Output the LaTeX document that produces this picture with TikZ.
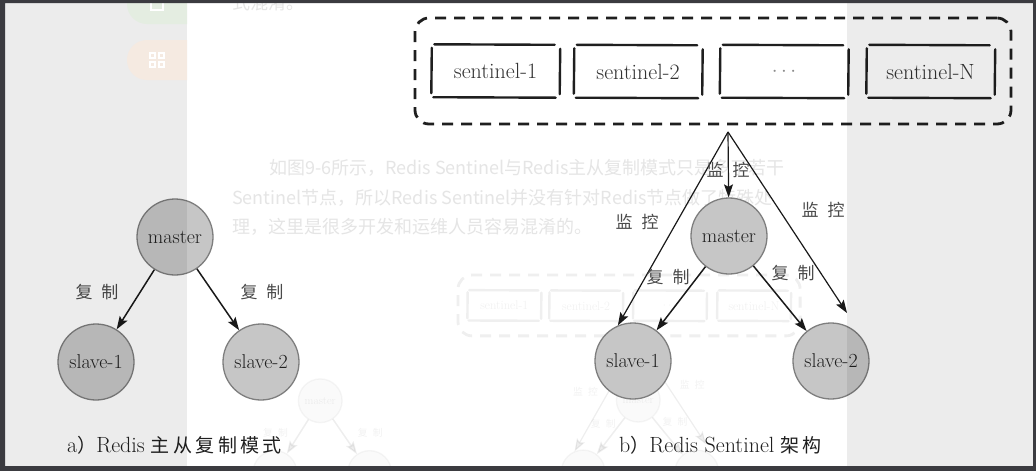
\documentclass[tikz,border=0pt]{standalone}
\usepackage{fontspec}
\newfontfamily\cjk{Noto Sans CJK SC}
\newfontfamily\cjkwide[LetterSpace=18]{Noto Sans CJK SC}
\usetikzlibrary{arrows.meta}
\definecolor{framecol}{HTML}{3B3B40}
\definecolor{nodefill}{HTML}{C6C6C6}
\definecolor{nodeedge}{HTML}{7E7E7E}
\definecolor{labelcol}{HTML}{4A4A4A}
\definecolor{btngreen}{HTML}{E4EDE1}
\definecolor{btnorange}{HTML}{F5EAE1}
\tikzset{
  redisnode/.style={circle, draw=nodeedge, line width=1.3pt, fill=nodefill,
    minimum size=76pt, inner sep=0pt, font=\fontsize{20}{24}\selectfont, text=black!88},
  sentbox/.style={draw=none, minimum width=128pt, minimum height=52pt, inner sep=0pt,
    font=\fontsize{22}{24}\selectfont, text=black!80},
  sketchline/.style={draw=black!88, line width=2.4pt, line cap=round},
  groupbox/.style={draw=black!88, line width=2.8pt, dash pattern=on 11pt off 8pt,
    rounded corners=14pt, minimum width=596pt, minimum height=106pt, inner sep=0pt},
  flow/.style={-{Stealth[length=13pt,width=9pt,inset=2.5pt]}, line width=1.5pt, draw=black!90},
  watch/.style={-{Stealth[length=13pt,width=9pt,inset=2.5pt]}, line width=1.2pt, draw=black!90},
  cjklabel/.style={font=\cjk\fontsize{17}{20}\selectfont, text=labelcol, inner sep=0pt},
  captext/.style={font=\fontsize{22}{26}\selectfont, text=black!88, inner sep=0pt},
  para/.style={font=\cjk\fontsize{18}{20}\selectfont, text=black!10, inner sep=0pt},
}
\newcommand\sketchrect[1]{%
  \draw[sketchline] ([xshift=3pt,yshift=0.5pt]#1.north west) -- ([xshift=-5pt]#1.north east);
  \draw[sketchline] ([xshift=2pt]#1.south west) -- ([xshift=-4pt,yshift=-0.5pt]#1.south east);
  \draw[sketchline] ([xshift=0.5pt,yshift=-3pt]#1.north west) -- ([yshift=4pt]#1.south west);
  \draw[sketchline] ([xshift=0.5pt,yshift=-4pt]#1.north east) -- ([yshift=3pt]#1.south east);
}
\newcommand\redisfigure{%
  % a) master-slave replication
  \node[redisnode] (lm) at (175,237) {master};
  \node[redisnode] (ls1) at (96,362) {slave-1};
  \node[redisnode] (ls2) at (261,362) {slave-2};
  \draw[flow] (lm) -- (ls1);
  \draw[flow] (lm) -- (ls2);
  \node[cjklabel] (la1) at (97,292) {复\hspace{9pt}制};
  \node[cjklabel] (la2) at (262,292) {复\hspace{9pt}制};
  \node[captext, anchor=base west] (capa) at (67,452)
    {a{\cjk\fontsize{19}{22}\selectfont ）}Redis\hspace{6pt}{\cjkwide\fontsize{19}{22}\selectfont 主从复制模式}};
  % b) Redis Sentinel
  \node[sentbox] (s1) at (495.5,71) {sentinel-1};
  \node[sentbox] (s2) at (638,71.5) {sentinel-2};
  \node[sentbox] (s3) at (784,71.5) {\textcolor{black!45}{$\cdots$}};
  \node[sentbox] (sN) at (930.5,71.5) {sentinel-N};
  \sketchrect{s1}\sketchrect{s2}\sketchrect{s3}\sketchrect{sN}
  \node[groupbox] (grp) at (713,71) {};
  \node[redisnode] (rm) at (729,236) {master};
  \node[redisnode] (rs1) at (633,361) {slave-1};
  \node[redisnode] (rs2) at (831,361) {slave-2};
  \coordinate (apex) at (728,132);
  \coordinate (aim) at (847,313);
  \draw[watch] (apex) -- (rm);
  \draw[watch] (apex) -- (rs1.113);
  \draw[watch] (apex) -- (aim);
  \draw[flow] (rm) -- (rs1);
  \draw[flow] (rm) -- (rs2);
  \node[cjklabel] (w1) at (728,170) {监\hspace{9pt}控};
  \node[cjklabel] (w2) at (637,222) {监\hspace{9pt}控};
  \node[cjklabel] (w3) at (823,210) {监\hspace{9pt}控};
  \node[cjklabel] (r1) at (668,277) {复\hspace{9pt}制};
  \node[cjklabel] (r2) at (793,273) {复\hspace{9pt}制};
  \node[captext, anchor=base west] (capb) at (619,452)
    {b{\cjk\fontsize{19}{22}\selectfont ）}Redis Sentinel\hspace{6pt}{\cjkwide\fontsize{19}{22}\selectfont 架构}};
}
\begin{document}
\begin{tikzpicture}[x=1pt,y=-1pt]
\useasboundingbox (0,0) rectangle (1036,471);
\fill[white] (0,0) rectangle (1036,471);
% faint page text behind the figure
\node[para, anchor=west] (p0) at (232,3) {式混淆。};
\node[para, anchor=west] (p1) at (269,168) {如图9-6所示，Redis Sentinel与Redis主从复制模式只是多了若干};
\node[para, anchor=west] (p2) at (232,198) {Sentinel节点，所以Redis Sentinel并没有针对Redis节点做了特殊处};
\node[para, anchor=west] (p3) at (232,227) {理，这里是很多开发和运维人员容易混淆的。};
% faint ghost copy of the figure
\begin{scope}[shift={(219.8,264.7)}, scale=0.574, transform shape, opacity=0.07, name prefix=g-]
  \redisfigure
\end{scope}
% the figure
\redisfigure
% side panels
\fill[black, fill opacity=0.075] (5,3) rectangle (187,466);
\fill[black, fill opacity=0.075] (847,3) rectangle (1033,466);
\begin{scope}
  \clip (5,3) rectangle (187,466);
  \fill[btngreen, rounded corners=20pt] (127,-30) rectangle (260,24);
  \fill[btnorange, rounded corners=20pt] (127,40) rectangle (260,80);
  \draw[white, line width=1.5pt] (151,-2) rectangle (163,10);
  \draw[white, line width=1.5pt] (150,53) rectangle (155,58) (159,53) rectangle (164,58) (150,62) rectangle (155,67) (159,62) rectangle (164,67);
\end{scope}
% outer frame
\fill[framecol, even odd rule] (0,0) rectangle (1036,471) (5,3) rectangle (1033,466);
\end{tikzpicture}
\end{document}
